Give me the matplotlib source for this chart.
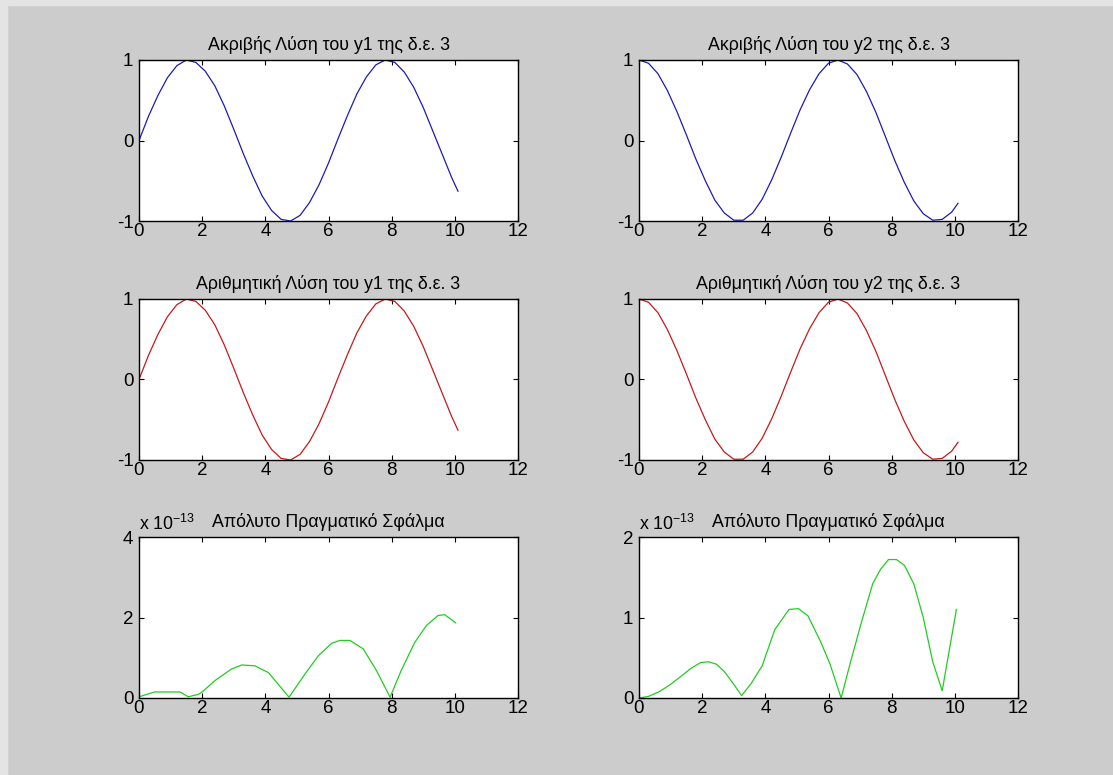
import matplotlib
matplotlib.use("Agg")
import matplotlib.pyplot as plt
from matplotlib.patches import Rectangle

plt.rcParams['font.family'] = ['Liberation Sans', 'DejaVu Sans']
plt.rcParams['mathtext.fontset'] = 'custom'
plt.rcParams['mathtext.rm'] = 'Liberation Sans'
plt.rcParams['axes.unicode_minus'] = False

# time grid of the solution
t = [0.0, 0.3, 0.6, 0.9, 1.2, 1.5, 1.8, 2.1, 2.4, 2.7, 3.0, 3.3, 3.6, 3.9,
     4.2, 4.5, 4.8, 5.1, 5.4, 5.7, 6.0, 6.3, 6.6, 6.9, 7.2, 7.5, 7.8, 8.1,
     8.4, 8.7, 9.0, 9.3, 9.6, 9.9, 10.1]

# exact y1 and y2
y1_exact = [0.00, 0.30, 0.56, 0.78, 0.93, 1.00, 0.97, 0.86, 0.68, 0.43, 0.14,
            -0.16, -0.44, -0.69, -0.87, -0.98, -1.00, -0.93, -0.77, -0.55,
            -0.28, 0.02, 0.31, 0.58, 0.79, 0.94, 1.00, 0.97, 0.85, 0.66, 0.41,
            0.12, -0.17, -0.46, -0.63]
y2_exact = [1.00, 0.96, 0.83, 0.62, 0.36, 0.07, -0.23, -0.50, -0.74, -0.90,
            -0.99, -0.99, -0.90, -0.73, -0.49, -0.21, 0.09, 0.38, 0.63, 0.83,
            0.96, 1.00, 0.95, 0.82, 0.61, 0.35, 0.05, -0.25, -0.52, -0.75,
            -0.91, -0.99, -0.98, -0.89, -0.78]

# numerical solution (differs only by ~1e-13, same to the eye)
y1_num = list(y1_exact)
y2_num = list(y2_exact)

# absolute error, in units of 1e-13
t_err1 = [0, 0.5, 1.3, 1.56, 1.88, 2.0, 2.4, 2.93, 3.25, 3.67, 4.1, 4.41, 4.75,
          5.25, 5.68, 6.1, 6.36, 6.68, 7.1, 7.52, 7.95, 8.3, 8.73, 9.1, 9.47,
          9.68, 10.02]
err1 = [0.03, 0.15, 0.15, 0.03, 0.09, 0.15, 0.43, 0.72, 0.82, 0.80, 0.63, 0.34,
        0.02, 0.59, 1.05, 1.36, 1.43, 1.43, 1.22, 0.68, 0.02, 0.68, 1.38, 1.80,
        2.05, 2.07, 1.87]
t_err2 = [0, 0.3, 0.65, 1.0, 1.3, 1.65, 1.95, 2.2, 2.45, 2.7, 3.0, 3.25, 3.55,
          3.9, 4.3, 4.75, 5.05, 5.35, 5.75, 6.05, 6.4, 6.7, 7.05, 7.4, 7.65,
          7.9, 8.15, 8.4, 8.7, 9.0, 9.3, 9.6, 10.05]
err2 = [0.0, 0.02, 0.08, 0.17, 0.26, 0.37, 0.44, 0.45, 0.42, 0.33, 0.17, 0.03,
        0.18, 0.40, 0.85, 1.10, 1.11, 1.02, 0.70, 0.42, 0.0, 0.45, 0.95, 1.42,
        1.60, 1.72, 1.72, 1.65, 1.42, 1.00, 0.45, 0.09, 1.10]

titles = ["Ακριβής Λύση του y1 της δ.ε. 3", "Ακριβής Λύση του y2 της δ.ε. 3",
          "Αριθμητική Λύση του y1 της δ.ε. 3", "Αριθμητική Λύση του y2 της δ.ε. 3",
          "Απόλυτο Πραγματικό Σφάλμα", "Απόλυτο Πραγματικό Σφάλμα"]

W, H = 1113, 775
fig = plt.figure(figsize=(W / 100, H / 100), dpi=100, facecolor='#cccccc')
# lighter window border
fig.patches.append(Rectangle((0, 1 - 5 / H), 1, 5 / H, transform=fig.transFigure,
                             color='#e4e4e4', zorder=-1))
fig.patches.append(Rectangle((0, 0), 7 / W, 1, transform=fig.transFigure,
                             color='#e4e4e4', zorder=-1))

lefts = [139, 639]
tops = [60, 299, 537]
aw, ah = 379, 161

blue, red, green = '#1c1cb4', '#c41a1a', '#22cc22'
series = [(t, y1_exact, blue), (t, y2_exact, blue),
          (t, y1_num, red), (t, y2_num, red),
          (t_err1, err1, green), (t_err2, err2, green)]

for i, (x, y, c) in enumerate(series):
    row, col = divmod(i, 2)
    l = lefts[col]
    tp = tops[row]
    ax = fig.add_axes([l / W, 1 - (tp + ah) / H, aw / W, ah / H])
    ax.plot(x, y, color=c, lw=0.9)
    ax.set_xlim(0, 12)
    ax.set_xticks([0, 2, 4, 6, 8, 10, 12])
    if row < 2:
        ax.set_ylim(-1, 1)
        ax.set_yticks([-1, 0, 1])
    elif col == 0:
        ax.set_ylim(0, 4)
        ax.set_yticks([0, 2, 4])
    else:
        ax.set_ylim(0, 2)
        ax.set_yticks([0, 1, 2])
    ax.tick_params(direction='in', length=3.5, width=0.8, top=True, right=True,
                   labelsize=13.5, colors='black')
    ax.tick_params(axis='x', pad=1.5)
    ax.tick_params(axis='y', pad=4)
    for s in ax.spines.values():
        s.set_linewidth(1.0)
    ax.set_title(titles[i], fontsize=12.8, pad=7)
    if row == 2:
        ax.text(0.0, 1.0 + 7 / ah * 0.72 * 100 / 72, r'x 10$^{\mathregular{-13}}$',
                transform=ax.transAxes, fontsize=12.8, ha='left', va='baseline')

fig.savefig('out.png', dpi=100, facecolor=fig.get_facecolor())
